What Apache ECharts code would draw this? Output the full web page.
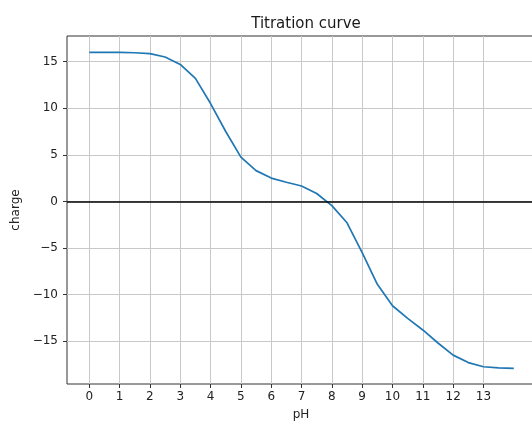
<!DOCTYPE html>
<html>
<head>
<meta charset="utf-8">
<script src="https://cdn.jsdelivr.net/npm/echarts@6/dist/echarts.min.js"></script>
<style>
  html, body { margin: 0; padding: 0; background: #fff; }
  #chart { width: 532px; height: 424px; }
</style>
</head>
<body>
<div id="chart"></div>
<script>
// pH steps and net charge
var phValues = [0, 0.5, 1, 1.5, 2, 2.5, 3, 3.5, 4, 4.5, 5, 5.5, 6, 6.5, 7,
  7.5, 8, 8.5, 9, 9.5, 10, 10.5, 11, 11.5, 12, 12.5, 13, 13.5, 14];
var chargeValues = [16.0, 16.0, 16.0, 15.95, 15.85, 15.5, 14.7, 13.2, 10.5, 7.5, 4.75, 3.3, 2.5, 2.05, 1.65,
  0.85, -0.45, -2.3, -5.5, -8.9, -11.2, -12.55, -13.8, -15.2, -16.5, -17.3, -17.75, -17.87, -17.92];
var xTicks = [0, 1, 2, 3, 4, 5, 6, 7, 8, 9, 10, 11, 12, 13];
var yTicks = [-15, -10, -5, 0, 5, 10, 15];

var chart = echarts.init(document.getElementById('chart'));

var minus = function (v) { return String(v).replace('-', '\u2212'); };
var font = 'DejaVu Sans';

chart.setOption({
  animation: false,
  title: {
    text: 'Titration curve',
    left: 301,
    textAlign: 'center',
    top: 12,
    textStyle: { fontFamily: font, fontSize: 15, fontWeight: 'normal', color: '#1a1a1a' }
  },
  grid: {
    left: 67, top: 36, width: 468, bottom: 40,
    outerBoundsMode: 'none',
    containLabel: false,
    show: true, borderColor: '#333', borderWidth: 1
  },
  xAxis: {
    type: 'value',
    min: -0.735, max: 14.7,
    name: 'pH', nameLocation: 'middle', nameGap: 25,
    nameTextStyle: { fontFamily: font, fontSize: 12, color: '#222' },
    axisLine: { show: false, onZero: false },
    axisTick: { show: true, customValues: xTicks, length: 4, lineStyle: { color: '#333' } },
    axisLabel: { customValues: xTicks, margin: 7, fontFamily: font, fontSize: 12, color: '#222', formatter: minus },
    splitLine: { show: true, lineStyle: { color: '#c8c8c8', width: 1 } }
  },
  yAxis: {
    type: 'value',
    min: -19.6, max: 17.75,
    name: 'charge', nameLocation: 'middle', nameGap: 44, nameRotate: 90,
    nameTextStyle: { fontFamily: font, fontSize: 12, color: '#222' },
    axisLine: { show: false, onZero: false },
    axisTick: { show: true, customValues: yTicks, length: 4, lineStyle: { color: '#333' } },
    axisLabel: { customValues: yTicks, margin: 9, fontFamily: font, fontSize: 12, color: '#222', formatter: minus },
    splitLine: { show: true, lineStyle: { color: '#c8c8c8', width: 1 } }
  },
  series: [{
    type: 'line',
    data: phValues.map(function (p, i) { return [p, chargeValues[i]]; }),
    showSymbol: false,
    lineStyle: { color: '#1f77b4', width: 1.7 },
    markLine: {
      silent: true,
      symbol: 'none',
      label: { show: false },
      lineStyle: { color: '#000', width: 1.6, type: 'solid' },
      data: [{ yAxis: 0 }]
    }
  }]
});
</script>
</body>
</html>
